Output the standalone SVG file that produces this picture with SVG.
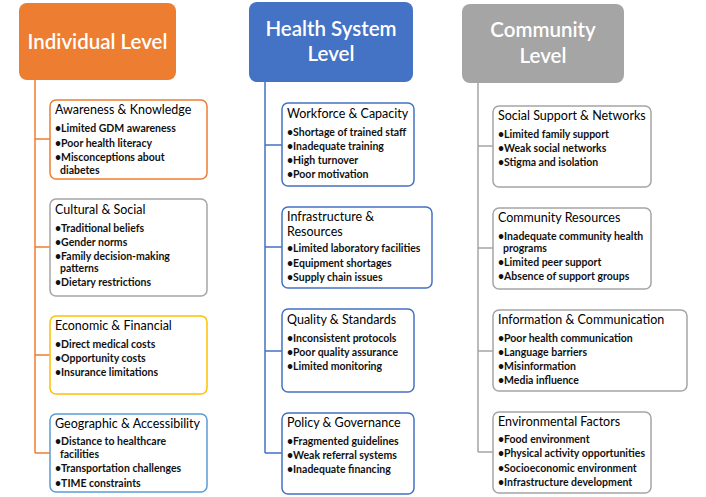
<svg xmlns="http://www.w3.org/2000/svg" width="706" height="497" viewBox="0 0 706 497">
<style>
text{font-family:Lato,"Open Sans","Liberation Sans",sans-serif}
.hd{font-size:20.5px;font-weight:600;fill:#fff;text-anchor:middle}
.ti{font-size:12.5px;fill:#000}
.bu{font-size:10.5px;font-weight:bold;fill:#111}
.box{fill:#fff;stroke-width:1.5}
.c1{fill:none;stroke:#ED7D31;stroke-width:1.5}
.c2{fill:none;stroke:#4472C4;stroke-width:1.5}
.c3{fill:none;stroke:#A5A5A5;stroke-width:1.5}
</style>
<rect width="706" height="497" fill="#fff"/>
<g id="connectors">
<path class="c1" d="M35 80V453M35 139H50M35 247H50M35 355H50M35 453H50"/>
<path class="c2" d="M265 82V453M265 145H282M265 247H282M265 351H282M265 453H282"/>
<path class="c3" d="M478 83V452M478 146H493M478 248H493M478 351H493M478 452H493"/>
</g>
<g id="individual-level">
<rect x="19" y="3" width="157" height="77" rx="8" fill="#ED7D31"/>
<text class="hd" x="97.5" y="49">Individual Level</text>
</g>
<g id="health-system-level">
<rect x="249" y="2" width="164" height="80" rx="8" fill="#4472C4"/>
<text class="hd" x="331" y="36">Health System</text>
<text class="hd" x="331" y="61">Level</text>
</g>
<g id="community-level">
<rect x="462" y="4" width="162" height="79" rx="8" fill="#A5A5A5"/>
<text class="hd" x="543" y="37">Community</text>
<text class="hd" x="543" y="63">Level</text>
</g>
<g id="awareness">
<rect class="box" x="50" y="100" width="157" height="79" rx="6" stroke="#ED7D31"/>
<text class="ti" x="55" y="114">Awareness &amp; Knowledge</text>
<text class="bu" x="55" y="132">•Limited GDM awareness</text>
<text class="bu" x="55" y="147">•Poor health literacy</text>
<text class="bu" x="55" y="161">•Misconceptions about</text>
<text class="bu" x="60" y="174">diabetes</text>
</g>
<g id="cultural">
<rect class="box" x="50" y="199" width="157" height="97" rx="6" stroke="#A5A5A5"/>
<text class="ti" x="55" y="214">Cultural &amp; Social</text>
<text class="bu" x="55" y="232">•Traditional beliefs</text>
<text class="bu" x="55" y="246">•Gender norms</text>
<text class="bu" x="55" y="260">•Family decision-making</text>
<text class="bu" x="60" y="272">patterns</text>
<text class="bu" x="55" y="286">•Dietary restrictions</text>
</g>
<g id="economic">
<rect class="box" x="50" y="316" width="157" height="78" rx="6" stroke="#FFC000"/>
<text class="ti" x="55" y="330">Economic &amp; Financial</text>
<text class="bu" x="55" y="348">•Direct medical costs</text>
<text class="bu" x="55" y="362">•Opportunity costs</text>
<text class="bu" x="55" y="376">•Insurance limitations</text>
</g>
<g id="geographic">
<rect class="box" x="50" y="414" width="157" height="78" rx="6" stroke="#5B9BD5"/>
<text class="ti" x="55" y="428">Geographic &amp; Accessibility</text>
<text class="bu" x="55" y="445">•Distance to healthcare</text>
<text class="bu" x="60" y="458">facilities</text>
<text class="bu" x="55" y="472">•Transportation challenges</text>
<text class="bu" x="55" y="487">•TIME constraints</text>
</g>
<g id="workforce">
<rect class="box" x="282" y="103" width="132" height="83" rx="6" stroke="#4472C4"/>
<text class="ti" x="287" y="118">Workforce &amp; Capacity</text>
<text class="bu" x="287" y="136">•Shortage of trained staff</text>
<text class="bu" x="287" y="150">•Inadequate training</text>
<text class="bu" x="287" y="164">•High turnover</text>
<text class="bu" x="287" y="178">•Poor motivation</text>
</g>
<g id="infrastructure">
<rect class="box" x="282" y="207" width="150" height="81" rx="6" stroke="#4472C4"/>
<text class="ti" x="287" y="221">Infrastructure &amp;</text>
<text class="ti" x="287" y="235.5">Resources</text>
<text class="bu" x="287" y="252">•Limited laboratory facilities</text>
<text class="bu" x="287" y="267">•Equipment shortages</text>
<text class="bu" x="287" y="281">•Supply chain issues</text>
</g>
<g id="quality">
<rect class="box" x="282" y="309" width="132" height="83" rx="6" stroke="#4472C4"/>
<text class="ti" x="287" y="324">Quality &amp; Standards</text>
<text class="bu" x="287" y="342">•Inconsistent protocols</text>
<text class="bu" x="287" y="356">•Poor quality assurance</text>
<text class="bu" x="287" y="370">•Limited monitoring</text>
</g>
<g id="policy">
<rect class="box" x="282" y="413" width="132" height="81" rx="6" stroke="#4472C4"/>
<text class="ti" x="287" y="427">Policy &amp; Governance</text>
<text class="bu" x="287" y="445">•Fragmented guidelines</text>
<text class="bu" x="287" y="459">•Weak referral systems</text>
<text class="bu" x="287" y="473">•Inadequate financing</text>
</g>
<g id="social-support">
<rect class="box" x="493" y="106" width="158" height="81" rx="6" stroke="#A5A5A5"/>
<text class="ti" x="498" y="120">Social Support &amp; Networks</text>
<text class="bu" x="498" y="138">•Limited family support</text>
<text class="bu" x="498" y="152">•Weak social networks</text>
<text class="bu" x="498" y="166">•Stigma and isolation</text>
</g>
<g id="community-resources">
<rect class="box" x="493" y="208" width="158" height="81" rx="6" stroke="#A5A5A5"/>
<text class="ti" x="498" y="222">Community Resources</text>
<text class="bu" x="498" y="240">•Inadequate community health</text>
<text class="bu" x="503" y="252">programs</text>
<text class="bu" x="498" y="266">•Limited peer support</text>
<text class="bu" x="498" y="280">•Absence of support groups</text>
</g>
<g id="information">
<rect class="box" x="493" y="310" width="194" height="81" rx="6" stroke="#A5A5A5"/>
<text class="ti" x="498" y="324">Information &amp; Communication</text>
<text class="bu" x="498" y="342">•Poor health communication</text>
<text class="bu" x="498" y="356">•Language barriers</text>
<text class="bu" x="498" y="370">•Misinformation</text>
<text class="bu" x="498" y="384">•Media influence</text>
</g>
<g id="environmental">
<rect class="box" x="493" y="412" width="158" height="81" rx="6" stroke="#A5A5A5"/>
<text class="ti" x="498" y="426">Environmental Factors</text>
<text class="bu" x="498" y="443">•Food environment</text>
<text class="bu" x="498" y="457">•Physical activity opportunities</text>
<text class="bu" x="498" y="472">•Socioeconomic environment</text>
<text class="bu" x="498" y="486">•Infrastructure development</text>
</g>
</svg>
